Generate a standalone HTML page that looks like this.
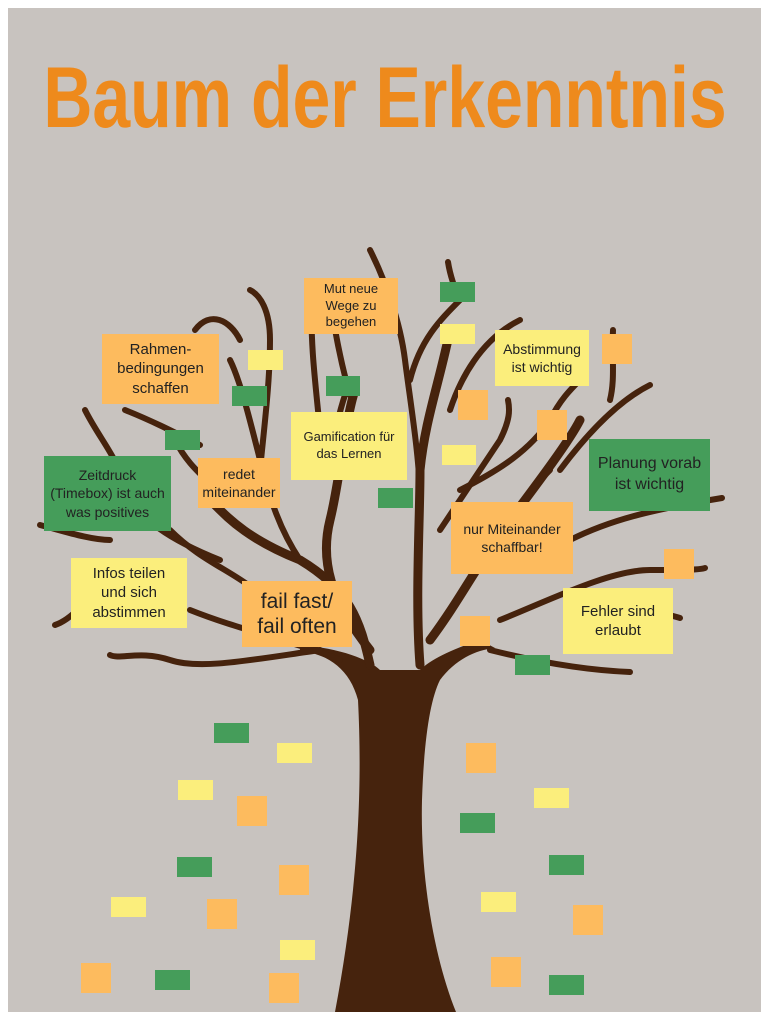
<!DOCTYPE html>
<html><head><meta charset="utf-8"><style>
body{margin:0;width:771px;height:1024px;background:#fff;position:relative;overflow:hidden;font-family:"Liberation Sans",sans-serif}
#bg{position:absolute;left:8px;top:8px;width:753px;height:1004px;background:#c8c3bf}
h1{position:absolute;left:385px;top:48px;margin:0;white-space:nowrap;font-size:86px;line-height:100px;font-weight:bold;color:#ee8a1c;transform:translateX(-50%) scaleX(0.79);transform-origin:center;font-family:"Liberation Sans",sans-serif}
.s{position:absolute;display:flex;align-items:center;justify-content:center;text-align:center;color:#222;line-height:1.3}
.o{background:#fdbb5e}.y{background:#fbee7c}.g{background:#459d5a}
</style></head><body>
<div id="bg"></div>
<h1>Baum der Erkenntnis</h1>
<svg width="771" height="1024" style="position:absolute;left:0;top:0" fill="none" stroke="#46230d" stroke-linecap="round">
<path d="M300,650 C330,655 350,670 358,700 C362,780 360,880 335,1012 L456,1012 C435,960 420,880 422,800 C424,740 430,700 440,680 C455,660 475,650 495,648 L480,640 C450,650 430,660 420,670 L380,670 C370,660 340,648 300,645 Z" fill="#46230d" stroke="none"/>
<g stroke-width="9">
<path d="M370,665 C360,620 350,590 300,560 C250,540 230,520 215,505"/>
<path d="M420,665 C415,600 420,520 420,470 C425,420 440,380 450,330"/>
<path d="M370,650 C330,600 320,560 330,520 C340,480 345,420 355,390"/>
<path d="M430,640 C460,600 480,560 510,520 C540,480 570,440 580,420"/>
</g>
<g stroke-width="6">
<path d="M340,660 C290,640 240,630 190,610"/>
<path d="M320,650 C250,660 200,670 170,660 C140,650 120,660 110,655"/>
<path d="M255,590 C230,570 200,560 170,530"/>
<path d="M300,560 C280,530 270,500 260,460 C250,420 240,380 230,360"/>
<path d="M260,470 C265,420 270,380 270,340 C270,310 260,295 250,290"/>
<path d="M220,560 C170,540 140,520 125,490 C120,460 100,440 85,410"/>
<path d="M110,540 C90,540 60,530 40,525"/>
<path d="M230,505 C210,480 190,470 175,440"/>
<path d="M200,445 C170,430 150,420 125,410"/>
<path d="M420,500 C420,460 410,400 405,360 C400,320 385,280 370,250"/>
<path d="M410,380 C420,340 440,320 460,300 C455,290 450,275 448,262"/>
<path d="M450,410 C460,380 480,340 520,320"/>
<path d="M440,530 C460,500 480,470 500,440 C510,420 510,410 508,400"/>
<path d="M460,490 C500,470 530,450 550,420 C560,400 570,390 580,380"/>
<path d="M510,530 C520,500 540,480 550,470"/>
<path d="M560,470 C590,430 620,400 650,385"/>
<path d="M610,400 C615,380 612,360 613,330"/>
<path d="M570,540 C610,520 650,510 722,498"/>
<path d="M500,620 C550,600 610,570 650,570 C680,570 700,570 705,568"/>
<path d="M620,600 C650,610 670,615 680,618"/>
<path d="M490,650 C530,660 580,670 630,672"/>
<path d="M330,460 C335,430 340,410 345,395"/>
<path d="M320,430 C315,380 310,340 312,300"/>
<path d="M350,395 C340,360 335,330 330,300"/>
<path d="M100,580 C90,600 70,620 55,625"/>
<path d="M240,340 C230,320 210,310 195,330"/>
</g>
</svg>
<div class="s o" style="left:304px;top:278px;width:94px;height:56px;font-size:13px">Mut neue<br>Wege zu<br>begehen</div>
<div class="s g" style="left:440px;top:282px;width:35px;height:20px"></div>
<div class="s y" style="left:440px;top:324px;width:35px;height:20px"></div>
<div class="s o" style="left:102px;top:334px;width:117px;height:70px;font-size:15px">Rahmen-<br>bedingungen<br>schaffen</div>
<div class="s y" style="left:248px;top:350px;width:35px;height:20px"></div>
<div class="s g" style="left:232px;top:386px;width:35px;height:20px"></div>
<div class="s g" style="left:326px;top:376px;width:34px;height:20px"></div>
<div class="s y" style="left:495px;top:330px;width:94px;height:56px;font-size:14px">Abstimmung<br>ist wichtig</div>
<div class="s o" style="left:602px;top:334px;width:30px;height:30px"></div>
<div class="s o" style="left:458px;top:390px;width:30px;height:30px"></div>
<div class="s o" style="left:537px;top:410px;width:30px;height:30px"></div>
<div class="s g" style="left:165px;top:430px;width:35px;height:20px"></div>
<div class="s y" style="left:291px;top:412px;width:116px;height:68px;font-size:13px">Gamification für<br>das Lernen</div>
<div class="s y" style="left:442px;top:445px;width:34px;height:20px"></div>
<div class="s g" style="left:44px;top:456px;width:127px;height:75px;font-size:14px">Zeitdruck<br>(Timebox) ist auch<br>was positives</div>
<div class="s o" style="left:198px;top:458px;width:82px;height:50px;font-size:14px">redet<br>miteinander</div>
<div class="s g" style="left:589px;top:439px;width:121px;height:72px;font-size:16px">Planung vorab<br>ist wichtig</div>
<div class="s g" style="left:378px;top:488px;width:35px;height:20px"></div>
<div class="s o" style="left:451px;top:502px;width:122px;height:72px;font-size:14px">nur Miteinander<br>schaffbar!</div>
<div class="s o" style="left:664px;top:549px;width:30px;height:30px"></div>
<div class="s y" style="left:71px;top:558px;width:116px;height:70px;font-size:15px">Infos teilen<br>und sich<br>abstimmen</div>
<div class="s o" style="left:242px;top:581px;width:110px;height:66px;font-size:21px;line-height:1.2">fail fast/<br>fail often</div>
<div class="s y" style="left:563px;top:588px;width:110px;height:66px;font-size:15px">Fehler sind<br>erlaubt</div>
<div class="s o" style="left:460px;top:616px;width:30px;height:30px"></div>
<div class="s g" style="left:515px;top:655px;width:35px;height:20px"></div>
<div class="s g" style="left:214px;top:723px;width:35px;height:20px"></div>
<div class="s y" style="left:277px;top:743px;width:35px;height:20px"></div>
<div class="s o" style="left:466px;top:743px;width:30px;height:30px"></div>
<div class="s y" style="left:178px;top:780px;width:35px;height:20px"></div>
<div class="s o" style="left:237px;top:796px;width:30px;height:30px"></div>
<div class="s y" style="left:534px;top:788px;width:35px;height:20px"></div>
<div class="s g" style="left:460px;top:813px;width:35px;height:20px"></div>
<div class="s g" style="left:177px;top:857px;width:35px;height:20px"></div>
<div class="s g" style="left:549px;top:855px;width:35px;height:20px"></div>
<div class="s o" style="left:279px;top:865px;width:30px;height:30px"></div>
<div class="s y" style="left:111px;top:897px;width:35px;height:20px"></div>
<div class="s o" style="left:207px;top:899px;width:30px;height:30px"></div>
<div class="s y" style="left:481px;top:892px;width:35px;height:20px"></div>
<div class="s o" style="left:573px;top:905px;width:30px;height:30px"></div>
<div class="s y" style="left:280px;top:940px;width:35px;height:20px"></div>
<div class="s o" style="left:81px;top:963px;width:30px;height:30px"></div>
<div class="s g" style="left:155px;top:970px;width:35px;height:20px"></div>
<div class="s o" style="left:269px;top:973px;width:30px;height:30px"></div>
<div class="s o" style="left:491px;top:957px;width:30px;height:30px"></div>
<div class="s g" style="left:549px;top:975px;width:35px;height:20px"></div>
</body></html>
